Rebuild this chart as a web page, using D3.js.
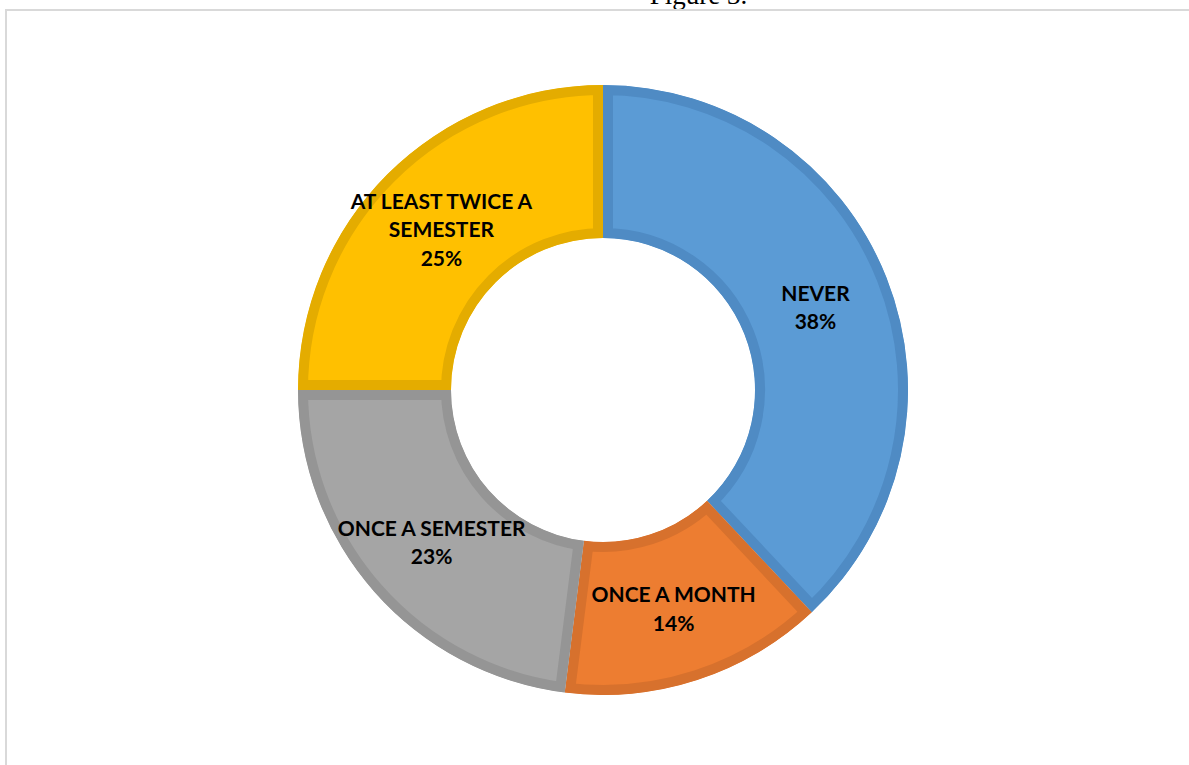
<!DOCTYPE html>
<html>
<head>
<meta charset="utf-8">
<script src="https://cdn.jsdelivr.net/npm/d3@7"></script>
<style>
  html, body { margin: 0; padding: 0; background: #ffffff; overflow: hidden; }
  svg { display: block; }
</style>
</head>
<body>
<svg id="chart" width="1189" height="765"></svg>
<script>
// Survey responses: how often students do the activity
const categories = ["NEVER", "ONCE A MONTH", "ONCE A SEMESTER", "AT LEAST TWICE A SEMESTER"];
const shares = [38, 14, 23, 25];
const fillColors = ["#5B9BD5", "#ED7D31", "#A5A5A5", "#FFC000"];
const edgeColors = ["#4F8BC4", "#D7712D", "#959595", "#E4AC00"];
const figureTitle = "Figure 3.";

const W = 1189, H = 765;
const cx = 603, cy = 390;
const outerR = 305, innerR = 152;
const edgeW = 10;
const labelFont = "Lato, 'Open Sans', sans-serif";
const labelSize = 21;

const svg = d3.select("#chart");

// Figure caption, running off the top edge of the page
svg.append("text")
  .attr("x", 698.5)
  .attr("y", 4)
  .attr("text-anchor", "middle")
  .attr("font-family", "'Liberation Serif', 'Times New Roman', serif")
  .attr("font-size", 27)
  .attr("fill", "#000")
  .text(figureTitle);

// Chart area frame
svg.append("rect")
  .attr("x", 6).attr("y", 10)
  .attr("width", W + 20).attr("height", H + 20)
  .attr("fill", "none")
  .attr("stroke", "#d9d9d9")
  .attr("stroke-width", 2);

const data = categories.map((c, i) => ({ name: c, value: shares[i], i }));

const pie = d3.pie()
  .value(d => d.value)
  .sort(null)
  .startAngle(0)
  .endAngle(2 * Math.PI);

const arc = d3.arc().innerRadius(innerR).outerRadius(outerR);

const g = svg.append("g").attr("transform", `translate(${cx},${cy})`);
const defs = svg.append("defs");

const arcs = pie(data);

// Each slice clips its own stroke so the border sits inside the slice
arcs.forEach((a, k) => {
  defs.append("clipPath").attr("id", "slice-clip-" + k)
    .append("path").attr("d", arc(a));
});

g.selectAll("path.slice")
  .data(arcs)
  .join("path")
  .attr("class", "slice")
  .attr("d", arc)
  .attr("fill", d => fillColors[d.data.i])
  .attr("stroke", d => edgeColors[d.data.i])
  .attr("stroke-width", edgeW * 2)
  .attr("stroke-linejoin", "miter")
  .attr("clip-path", (d, k) => `url(#slice-clip-${k})`);

// Word wrapping for data labels
const measurer = svg.append("text")
  .attr("font-family", labelFont)
  .attr("font-weight", "bold")
  .attr("font-size", labelSize)
  .attr("visibility", "hidden");

function wrap(text, maxW) {
  const words = text.split(" ");
  const lines = [];
  let cur = "";
  words.forEach(w => {
    const trial = cur ? cur + " " + w : w;
    measurer.text(trial);
    if (measurer.node().getComputedTextLength() > maxW && cur) {
      lines.push(cur);
      cur = w;
    } else {
      cur = trial;
    }
  });
  if (cur) lines.push(cur);
  return lines;
}

const lineH = 28.5;
const midR = (innerR + outerR) / 2;
const labelArc = d3.arc().innerRadius(midR).outerRadius(midR);

arcs.forEach(a => {
  const [lx, ly] = labelArc.centroid(a);
  const lines = wrap(a.data.name, 200).concat([a.data.value + "%"]);
  const n = lines.length;
  const t = g.append("text")
    .attr("text-anchor", "middle")
    .attr("font-family", labelFont)
    .attr("font-weight", "bold")
    .attr("font-size", labelSize)
    .attr("fill", "#000");
  lines.forEach((ln, j) => {
    t.append("tspan")
      .attr("x", lx)
      .attr("y", ly - (n - 1) * lineH / 2 + j * lineH + 9)
      .text(ln);
  });
});

measurer.remove();
</script>
</body>
</html>
